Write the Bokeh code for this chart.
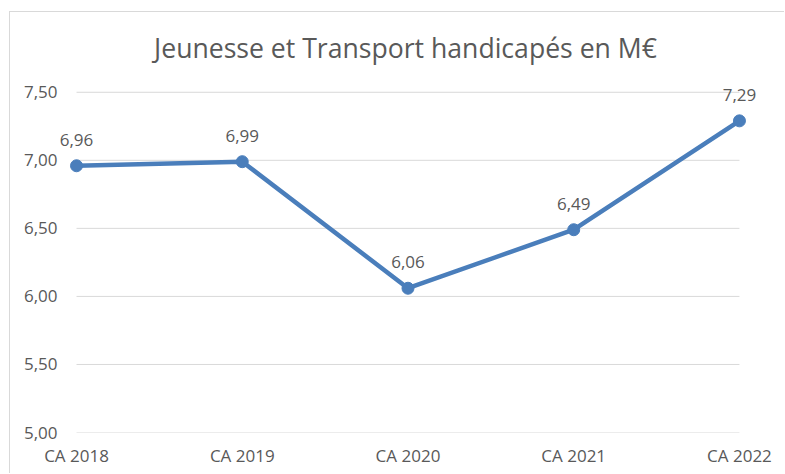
from bokeh.plotting import figure
from bokeh.models import ColumnDataSource, LabelSet, FixedTicker, CustomJSTickFormatter, Range1d
from bokeh.core.properties import value
from bokeh.embed import file_html
from bokeh.resources import INLINE

categories = ["CA 2018", "CA 2019", "CA 2020", "CA 2021", "CA 2022"]
values = [6.96, 6.99, 6.06, 6.49, 7.29]
y_ticks = [5.0, 5.5, 6.0, 6.5, 7.0, 7.5]
title_text = "Jeunesse et Transport handicapés en M€"

FONT = "Open Sans"
TXT = "#595959"
BLUE = "#4A7EBB"
GRID = "#D9D9D9"

xs = list(range(len(categories)))
labels = [f"{v:.2f}".replace(".", ",") for v in values]
src = ColumnDataSource(dict(x=xs, y=values, lab=labels))

# frame slightly wider than the category span so that data labels are not clipped
p = figure(width=775, height=462, output_backend="svg", toolbar_location=None,
           x_range=Range1d(-0.157, 4.127), y_range=Range1d(5.0, 7.66),
           min_border_left=40, min_border_right=25, min_border_top=58, min_border_bottom=42,
           title=title_text)
p.styles = {"margin-left": "9px", "margin-top": "11px",
            "border-left": "1px solid #d9d9d9", "border-top": "1px solid #d9d9d9"}
p.outline_line_color = None
p.background_fill_color = "white"
p.border_fill_color = "white"

p.title.align = "center"
p.title.text_font = FONT
p.title.text_font_size = "26.6px"
p.title.text_font_style = "normal"
p.title.text_color = TXT
p.title.standoff = 10

p.xgrid.grid_line_color = None
p.ygrid.grid_line_color = None
# horizontal grid lines spanning the category extent
p.segment(x0=[xs[0]] * len(y_ticks), x1=[xs[-1]] * len(y_ticks), y0=y_ticks, y1=y_ticks,
          line_color=GRID, line_width=1)

p.yaxis.ticker = FixedTicker(ticks=y_ticks)
p.yaxis.formatter = CustomJSTickFormatter(code="return tick.toFixed(2).replace('.', ',');")
p.xaxis.ticker = FixedTicker(ticks=xs)
p.xaxis.major_label_overrides = {i: c for i, c in zip(xs, categories)}

for ax in (p.xaxis, p.yaxis):
    ax.axis_line_color = None
    ax.major_tick_line_color = None
    ax.minor_tick_line_color = None
    ax.major_tick_out = 0
    ax.major_tick_in = 0
    ax.major_label_text_font = FONT
    ax.major_label_text_font_size = "17px"
    ax.major_label_text_color = TXT
p.yaxis.major_label_standoff = -7
p.xaxis.major_label_standoff = 11

p.line("x", "y", source=src, line_color=BLUE, line_width=4.5, line_join="round")
p.scatter("x", "y", source=src, size=12, fill_color=BLUE, line_color=BLUE)

p.add_layout(LabelSet(x="x", y="y", text="lab", source=src, y_offset=20,
                      text_align="center", text_baseline="alphabetic",
                      text_font=value(FONT), text_font_size=value("17px"), text_color=TXT))

open("out.html", "w").write(file_html(p, INLINE))
